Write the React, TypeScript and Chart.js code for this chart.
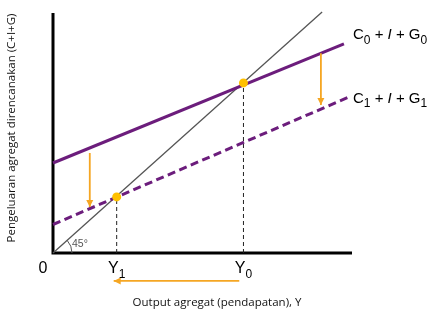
import React, { useEffect, useRef } from 'react';
import { Chart, registerables } from 'chart.js';

Chart.register(...registerables);

// ---- data (units: x 0..100, y 0..80) ----
const X_MAX = 100;
const Y_MAX = 80;
const line45 = [{ x: 0, y: 0 }, { x: 90, y: 80.3 }];
const c0Line = [{ x: 0, y: 30 }, { x: 97.3, y: 69.7 }];
const c1Line = [{ x: 0, y: 9.5 }, { x: 99, y: 52 }];
const equilibria = [{ x: 21.3, y: 18.7 }, { x: 63.7, y: 56.7 }];
const guideY1 = [{ x: 21.3, y: 0 }, { x: 21.3, y: 18.7 }];
const guideY0 = [{ x: 63.7, y: 0 }, { x: 63.7, y: 56.7 }];
const shiftDownLeft = [{ x: 12.3, y: 33.3 }, { x: 12.3, y: 15.3 }];
const shiftDownRight = [{ x: 89.6, y: 66.6 }, { x: 89.6, y: 49.3 }];
const shiftIncome = [{ x: 62.3, y: -9.3 }, { x: 20.3, y: -9.3 }];
const tickValues = [0, 21.3, 63.7];
const tickNames = ['0', 'Y', 'Y'];
const tickSubs = ['', '1', '0'];
const curveLabelY = [69.7, 48.5];
const curveSubs = ['0', '1'];
const xTitle = 'Output agregat (pendapatan), Y';
const yTitle = 'Pengeluaran agregat direncanakan (C+I+G)';

const PURPLE = '#6c1d7c';
const ORANGE = '#f5a623';
const DOT = '#ffc000';

type Part = { t: string; sub?: boolean; it?: boolean };

function drawParts(ctx: CanvasRenderingContext2D, parts: Part[], x: number, y: number, size: number, align: 'left' | 'center') {
  const subSize = Math.round(size * 0.78);
  const fontFor = (p: Part) => `${p.it ? 'italic ' : ''}${p.sub ? subSize : size}px "Liberation Sans", Arial, sans-serif`;
  let total = 0;
  parts.forEach((p) => { ctx.font = fontFor(p); total += ctx.measureText(p.t).width; });
  let cx = align === 'center' ? x - total / 2 : x;
  ctx.textAlign = 'left';
  ctx.textBaseline = 'alphabetic';
  parts.forEach((p) => {
    ctx.font = fontFor(p);
    ctx.fillText(p.t, cx, p.sub ? y + size * 0.32 : y);
    cx += ctx.measureText(p.t).width;
  });
}

const decorPlugin = {
  id: 'decor',
  beforeDatasetsDraw(chart: any) {
    const { ctx, scales } = chart;
    const xs = scales.x, ys = scales.y;
    const ox = xs.getPixelForValue(0), oy = ys.getPixelForValue(0);
    ctx.save();
    ctx.strokeStyle = '#000';
    ctx.lineWidth = 3;
    ctx.beginPath();
    ctx.moveTo(ox, ys.getPixelForValue(Y_MAX));
    ctx.lineTo(ox, oy);
    ctx.lineTo(xs.getPixelForValue(X_MAX), oy);
    ctx.stroke();
    // 45 degree arc
    const p1x = xs.getPixelForValue(line45[1].x), p1y = ys.getPixelForValue(line45[1].y);
    const ang = Math.atan2(oy - p1y, p1x - ox);
    ctx.strokeStyle = '#555';
    ctx.lineWidth = 1;
    ctx.beginPath();
    ctx.arc(ox, oy, 19, -ang, 0);
    ctx.stroke();
    ctx.restore();
  },
  afterDatasetsDraw(chart: any) {
    const { ctx, scales } = chart;
    const xs = scales.x, ys = scales.y;
    const ox = xs.getPixelForValue(0), oy = ys.getPixelForValue(0);
    ctx.save();
    // arrowheads
    chart.data.datasets.forEach((ds: any, i: number) => {
      if (!ds.arrow) return;
      const pts = chart.getDatasetMeta(i).data;
      const a = pts[pts.length - 2], b = pts[pts.length - 1];
      const an = Math.atan2(b.y - a.y, b.x - a.x);
      const L = 7, W = 3.5;
      ctx.fillStyle = ORANGE;
      ctx.beginPath();
      ctx.moveTo(b.x, b.y);
      ctx.lineTo(b.x - L * Math.cos(an) + W * Math.sin(an), b.y - L * Math.sin(an) - W * Math.cos(an));
      ctx.lineTo(b.x - L * Math.cos(an) - W * Math.sin(an), b.y - L * Math.sin(an) + W * Math.cos(an));
      ctx.closePath();
      ctx.fill();
    });
    // tick labels
    ctx.fillStyle = '#000';
    tickValues.forEach((v, i) => {
      const px = xs.getPixelForValue(v) + (i === 0 ? -10 : 0);
      const parts: Part[] = [{ t: tickNames[i] }];
      if (tickSubs[i]) parts.push({ t: tickSubs[i], sub: true });
      drawParts(ctx, parts, px, oy + 20, 16, 'center');
    });
    // curve labels
    curveLabelY.forEach((v, i) => {
      const py = ys.getPixelForValue(v) - 5;
      drawParts(ctx, [
        { t: 'C' }, { t: curveSubs[i], sub: true }, { t: ' + ' }, { t: 'I', it: true }, { t: ' + ' }, { t: 'G' }, { t: curveSubs[i], sub: true },
      ], xs.getPixelForValue(X_MAX) + 1, py, 15, 'left');
    });
    // 45°
    ctx.fillStyle = '#555';
    ctx.font = '10.5px "Liberation Sans", Arial, sans-serif';
    ctx.textAlign = 'left';
    ctx.textBaseline = 'alphabetic';
    ctx.fillText('45°', ox + 19, oy - 6);
    // axis titles
    ctx.fillStyle = '#111';
    ctx.font = '11.5px "Open Sans", sans-serif';
    ctx.textAlign = 'center';
    ctx.textBaseline = 'middle';
    ctx.fillText(xTitle, 217, oy + 50);
    ctx.translate(12, 128);
    ctx.rotate(-Math.PI / 2);
    ctx.fillText(yTitle, 0, 0);
    ctx.restore();
  },
};

export default function App() {
  const ref = useRef<HTMLCanvasElement>(null);
  useEffect(() => {
    document.body.style.margin = '0';
    const line = (data: any, color: string, width: number, dash: number[] = [], extra: any = {}) => ({
      type: 'line', data, borderColor: color, borderWidth: width, borderDash: dash,
      pointRadius: 0, fill: false, clip: false, ...extra,
    });
    // Chart.js draws dataset 0 on top, so list top-most first
    const chart = new Chart(ref.current!, {
      type: 'scatter',
      data: {
        datasets: [
          { type: 'scatter', data: equilibria, pointRadius: 4.5, pointBackgroundColor: DOT, pointBorderColor: DOT, pointBorderWidth: 0, clip: false },
          line(shiftDownLeft, ORANGE, 1.8, [], { arrow: true }),
          line(shiftDownRight, ORANGE, 1.8, [], { arrow: true }),
          line(shiftIncome, ORANGE, 1.8, [], { arrow: true }),
          line(c0Line, PURPLE, 3),
          line(c1Line, PURPLE, 3, [8, 4.5]),
          line(line45, '#555', 1.3),
          line(guideY1, '#222', 1, [4, 3]),
          line(guideY0, '#222', 1, [4, 3]),
        ] as any,
      },
      options: {
        animation: false,
        responsive: true,
        maintainAspectRatio: false,
        layout: { padding: { left: 53, top: 13, right: 78, bottom: 66 } },
        plugins: { legend: { display: false }, tooltip: { enabled: false } },
        scales: {
          x: { type: 'linear', min: 0, max: X_MAX, display: false },
          y: { type: 'linear', min: 0, max: Y_MAX, display: false },
        },
      },
      plugins: [decorPlugin],
    });
    return () => chart.destroy();
  }, []);
  return (
    <div style={{ width: 430, height: 319, position: 'relative' }}>
      <canvas ref={ref} />
    </div>
  );
}
